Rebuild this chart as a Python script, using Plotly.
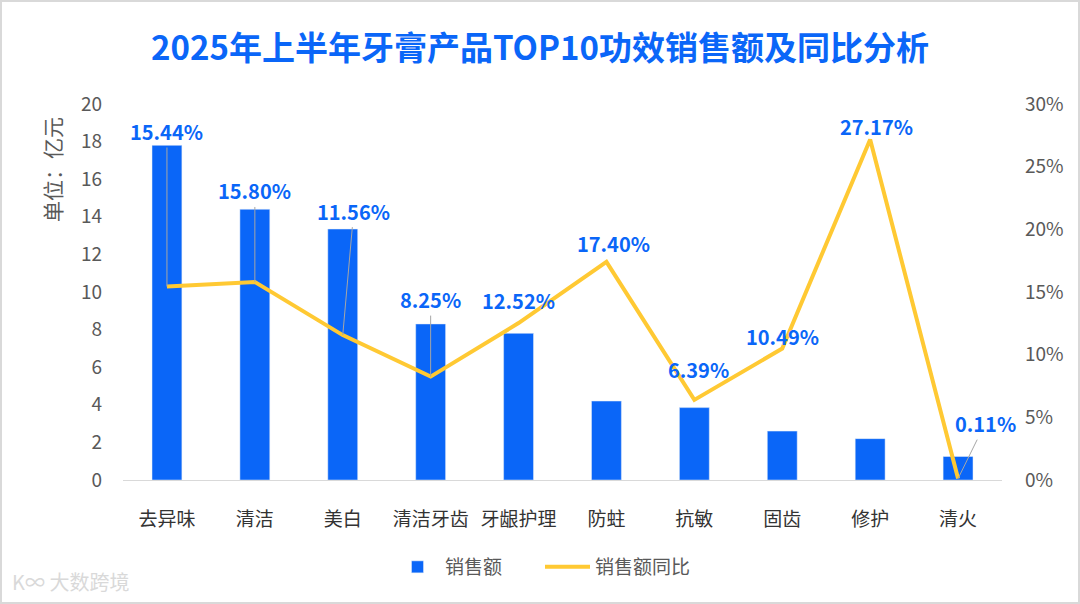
import plotly.graph_objects as go

categories = ["去异味", "清洁", "美白", "清洁牙齿", "牙龈护理", "防蛀", "抗敏", "固齿", "修护", "清火"]
sales = [17.8, 14.4, 13.35, 8.3, 7.8, 4.2, 3.85, 2.6, 2.2, 1.25]
yoy = [15.44, 15.80, 11.56, 8.25, 12.52, 17.40, 6.39, 10.49, 27.17, 0.11]
left_ticks = [0, 2, 4, 6, 8, 10, 12, 14, 16, 18, 20]
right_ticks = [0, 5, 10, 15, 20, 25, 30]

# label placement (pixel offsets): (ax, ay, arrow?)
label_offsets = [(0, -155, True), (0, -91, True), (11, -124, True), (0, -77, True),
                 (0, -23, False), (7, -18, False), (4, -30, False), (0, -12, False),
                 (6, -13, False), (27, -55, True)]

BLUE = "#0A66F8"
YELLOW = "#FFC933"
GRAY = "#595959"
FONT = "Noto Sans CJK SC"

fig = go.Figure()
fig.add_trace(go.Bar(x=categories, y=sales, name="销售额", marker_color=BLUE,
                     width=0.34, yaxis="y"))
fig.add_trace(go.Scatter(x=categories, y=yoy, name="销售额同比", mode="lines",
                         line=dict(color=YELLOW, width=4), yaxis="y2"))

annotations = []
for cat, v, (ax, ay, arrow) in zip(categories, yoy, label_offsets):
    txt = f"{v:.2f}%"
    if arrow:
        annotations.append(dict(x=cat, y=v, xref="x", yref="y2", text=txt,
                                showarrow=True, arrowhead=0, arrowwidth=1,
                                arrowcolor="#A6A6A6", ax=ax, ay=ay, standoff=0,
                                font=dict(family=FONT, size=20, color=BLUE, weight="bold")))
    else:
        annotations.append(dict(x=cat, y=v, xref="x", yref="y2", text=txt,
                                showarrow=False, xshift=ax, yshift=-ay,
                                font=dict(family=FONT, size=20, color=BLUE, weight="bold")))

annotations.append(dict(x=-71 / 879, y=(480 - 170) / 376, xref="paper", yref="paper",
                        text="单位：亿元", showarrow=False, textangle=-90,
                        xanchor="center", yanchor="middle",
                        font=dict(family=FONT, size=21, color=GRAY)))
annotations.append(dict(x=-113 / 879, y=(480 - 598) / 376, xref="paper", yref="paper",
                        text="K∞ 大数跨境", showarrow=False, xanchor="left", yanchor="bottom",
                        font=dict(family=FONT, size=20, color="#D9D9D9")))

fig.update_layout(
    width=1080, height=604,
    paper_bgcolor="white", plot_bgcolor="white",
    margin=dict(l=123, r=78, t=104, b=124, autoexpand=False),
    title=dict(text="2025年上半年牙膏产品TOP10功效销售额及同比分析", x=0.5, xanchor="center",
               y=1 - 48 / 604, yanchor="middle", yref="container",
               font=dict(family=FONT, size=33, color=BLUE, weight="bold")),
    xaxis=dict(range=[-0.5, len(categories) - 0.5], showgrid=False, showline=True,
               linecolor="#D9D9D9", linewidth=1,
               ticks="", tickfont=dict(family=FONT, size=19, color="#333333"),
               ticklabelstandoff=22, automargin=False),
    yaxis=dict(range=[0, 20], tickvals=left_ticks, showgrid=False, zeroline=False,
               tickfont=dict(family=FONT, size=19, color=GRAY), ticklabelstandoff=20,
               automargin=False),
    yaxis2=dict(range=[0, 30], tickvals=right_ticks, ticktext=[f"{t}%" for t in right_ticks],
                overlaying="y", side="right", showgrid=False, zeroline=False,
                tickfont=dict(family=FONT, size=19, color=GRAY), ticklabelstandoff=22,
                automargin=False),
    legend=dict(orientation="h", xref="container", x=0.5, xanchor="center",
                y=(480 - 567) / 376, yanchor="middle",
                font=dict(family=FONT, size=19, color=GRAY), itemwidth=45,
                entrywidth=90, tracegroupgap=0),
    annotations=annotations,
    shapes=[dict(type="rect", xref="paper", yref="paper",
                 x0=-122 / 879, x1=(1080 - 123 - 1) / 879, y0=(480 - 603) / 376, y1=(480 - 1) / 376,
                 line=dict(color="#D9D9D9", width=2))],
    showlegend=True,
)

fig.write_html("out.html", config={"displayModeBar": False},
               post_script="document.body.style.margin='0';document.body.style.padding='0';")
